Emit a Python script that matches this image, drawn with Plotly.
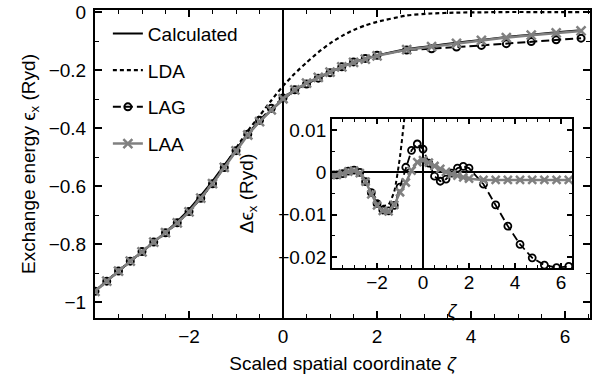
import plotly.graph_objects as go

# ---------------- data ----------------
zeta = [-4.0, -3.75, -3.5, -3.25, -3.0, -2.75, -2.5, -2.25, -2.0, -1.75, -1.5, -1.25,
        -1.0, -0.75, -0.5, -0.25, 0.0, 0.25, 0.5, 0.75, 1.0, 1.25, 1.5, 1.75, 2.0,
        2.63, 3.16, 3.69, 4.22, 4.75, 5.28, 5.81, 6.34]

calc = [-0.962, -0.927, -0.893, -0.859, -0.827, -0.793, -0.759, -0.722, -0.681, -0.633,
        -0.583, -0.528, -0.474, -0.422, -0.378, -0.339, -0.302, -0.270, -0.247, -0.226,
        -0.207, -0.189, -0.173, -0.161, -0.150, -0.128, -0.117, -0.106, -0.096, -0.086,
        -0.078, -0.070, -0.063]

lda = [-0.963, -0.928, -0.893, -0.859, -0.826, -0.793, -0.761, -0.727, -0.688, -0.641,
       -0.591, -0.533, -0.470, -0.410, -0.358, -0.305, -0.255, -0.212, -0.174, -0.139,
       -0.108, -0.083, -0.062, -0.046, -0.034, -0.012, -0.005, -0.002, -0.001, 0.0,
       0.0, 0.0, 0.0]

lag = [-0.963, -0.928, -0.893, -0.859, -0.826, -0.793, -0.761, -0.727, -0.688, -0.642,
       -0.592, -0.536, -0.478, -0.421, -0.373, -0.332, -0.296, -0.268, -0.248, -0.228,
       -0.209, -0.189, -0.172, -0.160, -0.149, -0.131, -0.127, -0.121, -0.115, -0.109,
       -0.102, -0.096, -0.090]

laa = [-0.963, -0.928, -0.893, -0.859, -0.827, -0.793, -0.761, -0.727, -0.689, -0.642,
       -0.592, -0.536, -0.479, -0.424, -0.378, -0.337, -0.299, -0.268, -0.245, -0.225,
       -0.207, -0.189, -0.174, -0.162, -0.151, -0.130, -0.119, -0.108, -0.098, -0.088,
       -0.080, -0.072, -0.065]

# inset: differences from the calculated exchange energy
d_lag = [-0.0006, -0.0006, -0.0003, 0.0003, 0.0005, 0.0000, -0.0022, -0.0048, -0.0074,
         -0.0089, -0.0091, -0.0078, -0.0035, 0.0012, 0.0052, 0.0067, 0.0055, 0.0022,
         -0.0009, -0.0021, -0.0016, -0.0002, 0.0010, 0.0014, 0.0010, -0.0028, -0.0077,
         -0.0127, -0.0170, -0.0202, -0.0219, -0.0225, -0.0222]

d_laa = [-0.0006, -0.0006, -0.0003, 0.0002, 0.0004, -0.0002, -0.0022, -0.0052, -0.0078,
         -0.0091, -0.0092, -0.0077, -0.0047, -0.0024, 0.0004, 0.0024, 0.0029, 0.0023,
         0.0015, 0.0008, 0.0001, -0.0004, -0.0008, -0.0012, -0.0015, -0.0018, -0.0018,
         -0.0018, -0.0018, -0.0018, -0.0018, -0.0018, -0.0018]

zeta_lda_inset = [-4.0, -3.75, -3.5, -3.25, -3.0, -2.75, -2.5, -2.25, -2.0, -1.75, -1.5,
                  -1.25, -1.0, -0.75, -0.5]
d_lda = [-0.0006, -0.0006, -0.0003, 0.0003, 0.0005, 0.0000, -0.0021, -0.0045, -0.0066,
         -0.0079, -0.0076, -0.0045, 0.0038, 0.0160, 0.0300]

main_xtick_vals = [-2, 0, 2, 4, 6]
main_xtick_text = ["\u22122", "0", "2", "4", "6"]
main_ytick_vals = [0, -0.2, -0.4, -0.6, -0.8, -1.0]
main_ytick_text = ["0", "\u22120.2", "\u22120.4", "\u22120.6", "\u22120.8", "\u22121"]
inset_xtick_vals = [-2, 0, 2, 4, 6]
inset_xtick_text = ["\u22122", "0", "2", "4", "6"]
inset_ytick_vals = [0.01, 0, -0.01, -0.02]
inset_ytick_text = ["0.01", "0", "\u22120.01", "\u22120.02"]

# ---------------- styling ----------------
FONT = "Liberation Sans, Arial, sans-serif"
FS = 19
GRAY = "#808080"

fig = go.Figure()

# main panel
fig.add_trace(go.Scatter(x=zeta, y=calc, mode="lines", name="Calculated",
                         line=dict(color="black", width=2, shape="spline", smoothing=0.6),
                         legendgroup="a"))
fig.add_trace(go.Scatter(x=zeta, y=lda, mode="lines", name="LDA",
                         line=dict(color="black", width=2.2, dash="4px,3px", shape="spline", smoothing=0.6),
                         legendgroup="b"))
fig.add_trace(go.Scatter(x=zeta, y=lag, mode="lines+markers", name="LAG",
                         line=dict(color="black", width=2, dash="8px,4px"),
                         marker=dict(symbol="circle-open", size=7, color="black",
                                     line=dict(width=2, color="black")),
                         legendgroup="c"))
fig.add_trace(go.Scatter(x=zeta, y=laa, mode="lines+markers", name="LAA",
                         line=dict(color=GRAY, width=2.5),
                         marker=dict(symbol="x-thin-open", size=9, color=GRAY,
                                     line=dict(width=2.5, color=GRAY)),
                         legendgroup="d"))

# inset panel
fig.add_trace(go.Scatter(x=zeta_lda_inset, y=d_lda, mode="lines", xaxis="x2", yaxis="y2",
                         line=dict(color="black", width=2, dash="4px,3px", shape="spline", smoothing=0.5),
                         showlegend=False))
fig.add_trace(go.Scatter(x=zeta, y=d_lag, mode="lines+markers", xaxis="x2", yaxis="y2",
                         line=dict(color="black", width=1.8, dash="8px,4px"),
                         marker=dict(symbol="circle-open", size=7, color="black",
                                     line=dict(width=1.8, color="black")),
                         showlegend=False))
fig.add_trace(go.Scatter(x=zeta, y=d_laa, mode="lines+markers", xaxis="x2", yaxis="y2",
                         line=dict(color=GRAY, width=2.5),
                         marker=dict(symbol="x-thin-open", size=8, color=GRAY,
                                     line=dict(width=2.5, color=GRAY)),
                         showlegend=False))

axis_common = dict(showline=True, linecolor="black", linewidth=2, mirror="ticks",
                   ticks="inside", tickcolor="black", tickwidth=1.5, showgrid=False,
                   automargin=False,
                   tickfont=dict(family=FONT, size=FS, color="black"))

fig.update_layout(
    width=600, height=378,
    margin=dict(l=95, r=10, t=10, b=60),
    paper_bgcolor="white", plot_bgcolor="white",
    font=dict(family=FONT, size=FS, color="black"),
    showlegend=True,
    legend=dict(x=0.026, y=0.985, xanchor="left", yanchor="top",
                bgcolor="rgba(0,0,0,0)", font=dict(family=FONT, size=FS),
                tracegroupgap=9, traceorder="grouped"),
    xaxis=dict(axis_common, range=[-4.0, 6.53], tickvals=main_xtick_vals,
               ticktext=main_xtick_text, ticklen=7,
               minor=dict(dtick=0.5, ticklen=4, ticks="inside", tickcolor="black", tickwidth=1.2),
               zeroline=True, zerolinecolor="black", zerolinewidth=2,
               title=dict(text="Scaled spatial coordinate <i>\u03b6</i>", standoff=11,
                          font=dict(family=FONT, size=FS))),
    yaxis=dict(axis_common, range=[-1.055, 0.007], tickvals=main_ytick_vals,
               ticktext=main_ytick_text, ticklen=7, ticklabelstandoff=3,
               minor=dict(dtick=0.1, ticklen=4, ticks="inside", tickcolor="black", tickwidth=1.2),
               zeroline=False,
               title=dict(text="Exchange energy \u03f5<sub>x</sub> (Ryd)", standoff=8,
                          font=dict(family=FONT, size=FS))),
    xaxis2=dict(axis_common, domain=[0.4788, 0.9636], anchor="y2", range=[-3.96, 6.48],
                tickvals=inset_xtick_vals, ticktext=inset_xtick_text, ticklen=5,
                ticklabelstandoff=-4,
                minor=dict(dtick=0.5, ticklen=3, ticks="inside", tickcolor="black", tickwidth=1.2),
                zeroline=True, zerolinecolor="black", zerolinewidth=2,
                title=dict(text="<i>\u03b6</i>", standoff=12, font=dict(family=FONT, size=FS))),
    yaxis2=dict(axis_common, domain=[0.1623, 0.6461], anchor="x2", range=[-0.0226, 0.0126],
                tickvals=inset_ytick_vals, ticktext=inset_ytick_text, ticklen=5,
                minor=dict(dtick=0.005, ticklen=3, ticks="inside", tickcolor="black", tickwidth=1.2),
                zeroline=True, zerolinecolor="black", zerolinewidth=2,
                title=dict(text="\u0394\u03f5<sub>x</sub> (Ryd)", standoff=19,
                           font=dict(family=FONT, size=FS))),
)

fig.write_html("out.html",
               config={"displayModeBar": False},
               post_script="document.body.style.margin='0';document.body.style.overflow='hidden';")
